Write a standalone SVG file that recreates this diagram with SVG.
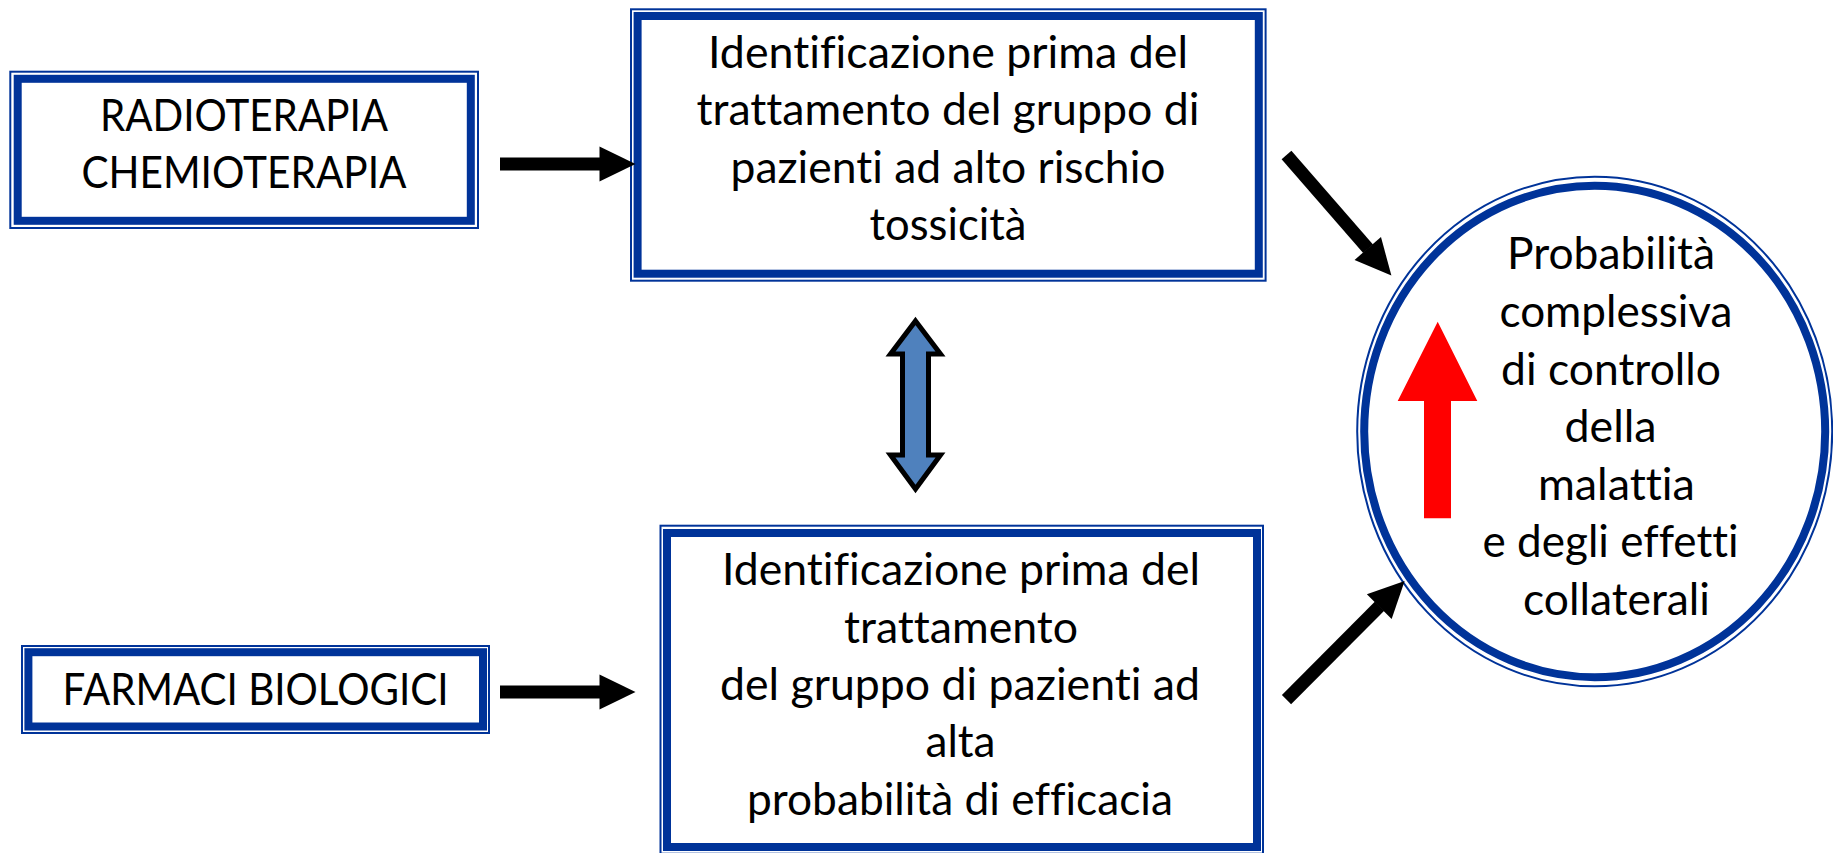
<svg xmlns="http://www.w3.org/2000/svg" width="1833" height="853" viewBox="0 0 1833 853">
  <style>
    .thin { fill: none; stroke: #003399; stroke-width: 2; }
    .thick { fill: none; stroke: #003399; stroke-width: 8; }
    .t { font-family: Lato, "Liberation Sans", sans-serif; font-size: 44px; fill: #000000; text-anchor: middle; font-variant-ligatures: none; font-feature-settings: "liga" 0, "clig" 0; }
    .conn { stroke: #000000; stroke-width: 13; fill: none; marker-end: url(#ah); }
  </style>
  <defs>
    <marker id="ah" markerUnits="userSpaceOnUse" markerWidth="40" markerHeight="40" refX="0.5" refY="17.5" orient="auto" overflow="visible">
      <path d="M0,0 L36,17.5 L0,35 Z" fill="#000000"/>
    </marker>
  </defs>
  <rect x="0" y="0" width="1833" height="853" fill="#ffffff"/>

  <g id="node-radio">
    <rect class="thin" x="10.3" y="71.7" width="467.7" height="156.3"/>
    <rect class="thick" x="17.7" y="78.8" width="453.1" height="142" stroke-width="8.5"/>
    <text class="t" x="244" y="131" textLength="288" lengthAdjust="spacingAndGlyphs">RADIOTERAPIA</text>
    <text class="t" x="244" y="188" textLength="325" lengthAdjust="spacingAndGlyphs">CHEMIOTERAPIA</text>
  </g>

  <g id="node-tossicita">
    <rect class="thin" x="631" y="9.3" width="634.6" height="271.4"/>
    <rect class="thick" x="637.6" y="16" width="621.2" height="257.7"/>
    <text class="t" x="948" y="68.3" textLength="480" lengthAdjust="spacingAndGlyphs">Identificazione prima del</text>
    <text class="t" x="948" y="125" textLength="503" lengthAdjust="spacingAndGlyphs">trattamento del gruppo di</text>
    <text class="t" x="948" y="182.7" textLength="435" lengthAdjust="spacingAndGlyphs">pazienti ad alto rischio</text>
    <text class="t" x="948" y="240" textLength="157" lengthAdjust="spacingAndGlyphs">tossicità</text>
  </g>

  <g id="node-farmaci">
    <rect class="thin" x="22" y="646" width="467" height="87"/>
    <rect class="thick" x="28.4" y="652.2" width="454.6" height="74.3"/>
    <text class="t" x="255.5" y="705" textLength="386" lengthAdjust="spacingAndGlyphs">FARMACI BIOLOGICI</text>
  </g>

  <g id="node-efficacia">
    <rect class="thin" x="660.5" y="525.7" width="602.5" height="328"/>
    <rect class="thick" x="667" y="533" width="590" height="314"/>
    <text class="t" x="961" y="585" textLength="478" lengthAdjust="spacingAndGlyphs">Identificazione prima del</text>
    <text class="t" x="961" y="643.3" textLength="234" lengthAdjust="spacingAndGlyphs">trattamento</text>
    <text class="t" x="960" y="700" textLength="480" lengthAdjust="spacingAndGlyphs">del gruppo di pazienti ad</text>
    <text class="t" x="960.5" y="757.3" textLength="70" lengthAdjust="spacingAndGlyphs">alta</text>
    <text class="t" x="960" y="815" textLength="426" lengthAdjust="spacingAndGlyphs">probabilità di efficacia</text>
  </g>

  <g id="node-probabilita">
    <ellipse class="thin" cx="1594.7" cy="431.5" rx="237.5" ry="254.8"/>
    <ellipse class="thick" cx="1594.7" cy="431.5" rx="230.5" ry="245.7"/>
    <polygon points="1437.7,321.7 1477.3,401 1451,401 1451,518.3 1424,518.3 1424,401 1397.7,401" fill="#ff0000"/>
    <text class="t" x="1611" y="269" textLength="208" lengthAdjust="spacingAndGlyphs">Probabilità</text>
    <text class="t" x="1616" y="327" textLength="233" lengthAdjust="spacingAndGlyphs">complessiva</text>
    <text class="t" x="1611" y="384.7" textLength="220" lengthAdjust="spacingAndGlyphs">di controllo</text>
    <text class="t" x="1610.5" y="441.7" textLength="92" lengthAdjust="spacingAndGlyphs">della</text>
    <text class="t" x="1616.4" y="499.7" textLength="157" lengthAdjust="spacingAndGlyphs">malattia</text>
    <text class="t" x="1610.6" y="557.3" textLength="256" lengthAdjust="spacingAndGlyphs">e degli effetti</text>
    <text class="t" x="1616.5" y="614.9" textLength="187" lengthAdjust="spacingAndGlyphs">collaterali</text>
  </g>

  <g id="connectors">
    <line class="conn" x1="500" y1="164" x2="600" y2="164"/>
    <line class="conn" x1="500" y1="692" x2="600" y2="692"/>
    <line class="conn" x1="1286.5" y1="155" x2="1368.1" y2="248.8"/>
    <line class="conn" x1="1286.5" y1="699.7" x2="1379.6" y2="606.2"/>
    <path d="M915.5,321 L940.5,354 L928.5,354 L928.5,455 L940.5,455 L915.5,489 L890.5,455 L902.5,455 L902.5,354 L890.5,354 Z" fill="#4f81bd" stroke="#000000" stroke-width="5" stroke-linejoin="miter"/>
  </g>
</svg>
